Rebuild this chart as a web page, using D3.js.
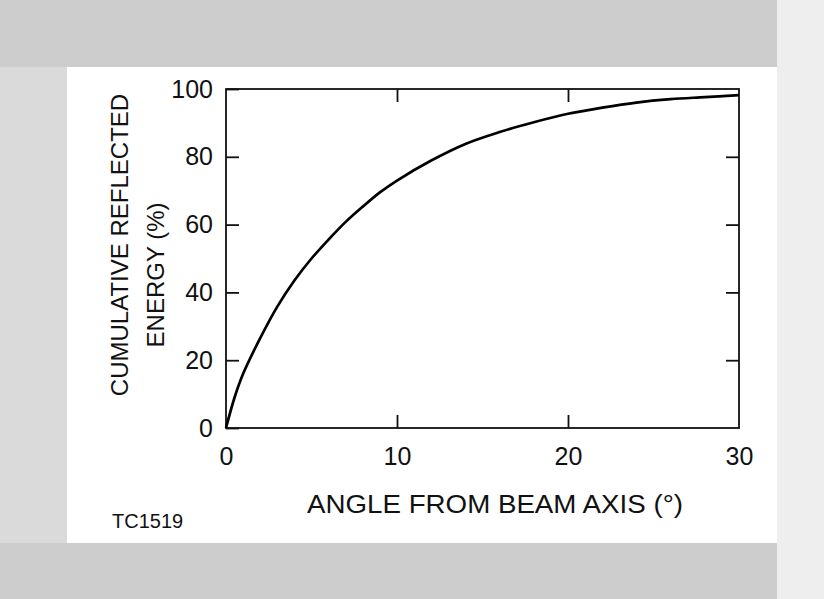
<!DOCTYPE html>
<html>
<head>
<meta charset="utf-8">
<script src="https://cdn.jsdelivr.net/npm/d3@7"></script>
<style>
  body { margin: 0; background: #fff; }
  svg text { font-family: "Liberation Sans", Arial, sans-serif; fill: #111; }
</style>
</head>
<body>
<svg id="chart" width="824" height="599"></svg>
<script>
// values
var angles = [0, 0.5, 1, 2, 3, 4, 5, 6, 7, 8, 9, 10, 12, 14, 16, 18, 20, 22, 24, 26, 28, 30];
var energy = [0, 9, 16, 26.5, 35.8, 43.5, 50, 55.6, 60.8, 65.3, 69.5, 73, 78.9, 83.8, 87.3, 90.2, 92.7, 94.5, 96, 97, 97.6, 98.2];
var xTicks = [0, 10, 20, 30];
var yTicks = [0, 20, 40, 60, 80, 100];

var svg = d3.select("#chart");

// halftone-ish frame around the white card
svg.append("rect").attr("width", 824).attr("height", 599).attr("fill", "#cdcdcd");
svg.append("rect").attr("x", 777).attr("y", 0).attr("width", 47).attr("height", 599).attr("fill", "#eeeeee");
svg.append("rect").attr("x", 0).attr("y", 67).attr("width", 67).attr("height", 476).attr("fill", "#dadada");
svg.append("rect").attr("x", 67).attr("y", 67).attr("width", 710).attr("height", 476).attr("fill", "#fff");

// plot box edges (window.top is reserved, so not "top")
var plotL = 226, plotR = 739, plotT = 89, plotB = 428;

var x = d3.scaleLinear().domain([0, 30]).range([plotL, plotR]);
var y = d3.scaleLinear().domain([0, 100]).range([plotB, plotT]);

var g = svg.append("g");

// frame lines
g.append("rect")
    .attr("x", plotL).attr("y", plotT)
    .attr("width", plotR - plotL).attr("height", plotB - plotT)
    .attr("fill", "none")
    .attr("stroke", "#111")
    .attr("stroke-width", 1.8);

//left axis with labels
var yAxis = d3.axisLeft(y).tickValues(yTicks).tickSize(-13).tickPadding(13);
g.append("g").attr("transform", "translate(" + plotL + ",0)").call(yAxis)
    .call(function (a) {
        a.select(".domain").remove();
        a.selectAll("line").attr("stroke", "#111").attr("stroke-width", 1.8);
        a.selectAll("text").attr("font-size", 25).style("font-family", null).attr("fill", "#111");
    });

//right axis, ticks only
var yAxisR = d3.axisRight(y).tickValues(yTicks.slice(1, -1)).tickSize(-13).tickFormat("");
g.append("g").attr("transform", "translate(" + plotR + ",0)").call(yAxisR)
    .call(function (a) {
        a.select(".domain").remove();
        a.selectAll("line").attr("stroke", "#111").attr("stroke-width", 1.8);
    });

//bottom axis with labels
var xAxis = d3.axisBottom(x).tickValues(xTicks).tickSize(-13).tickPadding(19);
g.append("g").attr("transform", "translate(0," + plotB + ")").call(xAxis)
    .call(function (a) {
        a.select(".domain").remove();
        a.selectAll("line").attr("stroke", "#111").attr("stroke-width", 1.8);
        a.selectAll(".tick").filter(function (d) { return d == 0 || d == 30; }).select("line").remove();
        a.selectAll("text").attr("font-size", 25).style("font-family", null).attr("fill", "#111");
    });

//top axis, ticks only
var xAxisT = d3.axisTop(x).tickValues(xTicks.slice(1, -1)).tickSize(-13).tickFormat("");
g.append("g").attr("transform", "translate(0," + plotT + ")").call(xAxisT)
    .call(function (a) {
        a.select(".domain").remove();
        a.selectAll("line").attr("stroke", "#111").attr("stroke-width", 1.8);
    });

// the curve
var line = d3.line()
    .x(function (d, i) { return x(angles[i]); })
    .y(function (d) { return y(d); })
    .curve(d3.curveCatmullRom.alpha(0.5));

g.append("path")
    .datum(energy)
    .attr("d", line)
    .attr("fill", "none")
    .attr("stroke", "#000")
    .attr("stroke-width", 2.7);

// titles
svg.append("text")
    .attr("x", 307).attr("y", 513)
    .attr("font-size", 25)
    .attr("textLength", 376).attr("lengthAdjust", "spacingAndGlyphs")
    .text("ANGLE FROM BEAM AXIS (°)");

svg.append("text")
    .attr("transform", "translate(128,245) rotate(-90)")
    .attr("text-anchor", "middle")
    .attr("font-size", 24)
    .text("CUMULATIVE REFLECTED");

svg.append("text")
    .attr("transform", "translate(164,275) rotate(-90)")
    .attr("text-anchor", "middle")
    .attr("font-size", 24)
    .text("ENERGY (%)");

svg.append("text")
    .attr("x", 112).attr("y", 528)
    .attr("font-size", 20)
    .text("TC1519");
</script>
</body>
</html>
